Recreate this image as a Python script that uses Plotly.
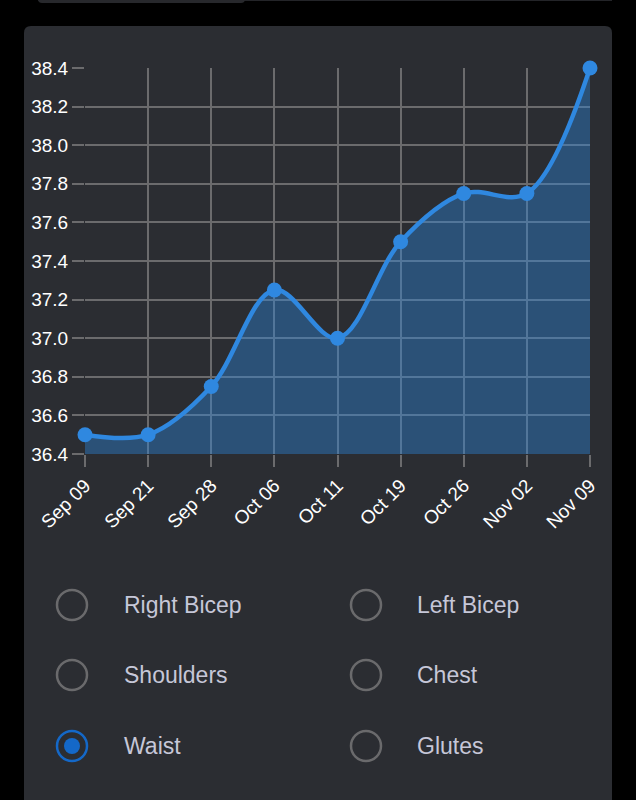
import plotly.graph_objects as go

# measurement history for the selected body part (waist)
dates = ['Sep 09', 'Sep 21', 'Sep 28', 'Oct 06', 'Oct 11', 'Oct 19', 'Oct 26', 'Nov 02', 'Nov 09']
waist = [36.5, 36.5, 36.75, 37.25, 37.0, 37.5, 37.75, 37.75, 38.4]

# radio options under the chart
options_left = ['Right Bicep', 'Shoulders', 'Waist']
options_right = ['Left Bicep', 'Chest', 'Glutes']
selected = 'Waist'

W, H = 636, 800
BLUE = '#2f88e0'
CARD = '#2b2d32'


def px(x):
    return x / W


def py(y):
    return 1 - y / H


def rounded_rect(x0, y0, x1, y1, r):
    # pixel coords -> svg path in paper coords
    rx, ry = r / W, r / H
    a, b, c, d = px(x0), py(y0), px(x1), py(y1)
    return (f'M {a + rx},{b} L {c - rx},{b} Q {c},{b} {c},{b - ry} '
            f'L {c},{d + ry} Q {c},{d} {c - rx},{d} L {a + rx},{d} '
            f'Q {a},{d} {a},{d + ry} L {a},{b - ry} Q {a},{b} {a + rx},{b} Z')


fig = go.Figure()

fig.add_trace(go.Scatter(
    x=dates, y=waist,
    mode='lines+markers',
    line=dict(color=BLUE, width=4.5, shape='spline', smoothing=1),
    marker=dict(color=BLUE, size=15),
    fill='tozeroy', fillcolor='rgba(46,134,222,0.4)',
    cliponaxis=False,
    hoverinfo='skip',
))

shapes = [
    # bits of the element above the card
    dict(type='rect', xref='paper', yref='paper', layer='below',
         x0=px(38), x1=px(612), y0=py(1), y1=py(0), fillcolor='#232428', line=dict(width=0)),
    dict(type='path', xref='paper', yref='paper', layer='below',
         path=rounded_rect(38, -12, 245, 3, 4), fillcolor='#27282c', line=dict(width=0)),
    # card
    dict(type='path', xref='paper', yref='paper', layer='below',
         path=rounded_rect(24, 26, 612, 830, 7), fillcolor=CARD, line=dict(width=0)),
]
annotations = []

rows_y = [605, 675, 746]
for col_x, text_x, labels in [(72, 122, options_left), (366, 415, options_right)]:
    for y, label in zip(rows_y, labels):
        on = label == selected
        r = 15
        shapes.append(dict(type='circle', xref='paper', yref='paper',
                           x0=px(col_x - r), x1=px(col_x + r), y0=py(y + r), y1=py(y - r),
                           line=dict(color='#1468c8' if on else '#6a6a6c', width=2.5),
                           fillcolor='rgba(0,0,0,0)'))
        if on:
            shapes.append(dict(type='circle', xref='paper', yref='paper',
                               x0=px(col_x - 8), x1=px(col_x + 8), y0=py(y + 8), y1=py(y - 8),
                               line=dict(width=0), fillcolor='#1468c8'))
        annotations.append(dict(xref='paper', yref='paper', x=px(text_x), y=py(y),
                                xanchor='left', yanchor='middle', showarrow=False,
                                text=label, font=dict(size=23, color='#c6c7d8')))

fig.update_layout(
    width=W, height=H,
    margin=dict(l=0, r=0, t=0, b=0),
    paper_bgcolor='black', plot_bgcolor='rgba(0,0,0,0)',
    font=dict(family='Liberation Sans, Arial, sans-serif', color='white'),
    showlegend=False,
    shapes=shapes,
    annotations=annotations,
    xaxis=dict(domain=[px(85), px(590)], range=[0, 8], type='category', automargin=False,
               showgrid=True, gridcolor='#6b6b6d', gridwidth=1.5,
               ticks='outside', ticklen=12, tickcolor='#6b6b6d', tickwidth=1.5,
               tickangle=-45, tickfont=dict(size=19, color='white'),
               showline=False, zeroline=False, fixedrange=True),
    yaxis=dict(domain=[py(454), py(68)], range=[36.4, 38.4], dtick=0.2, tickformat='.1f',
               automargin=False,
               showgrid=True, gridcolor='#6b6b6d', gridwidth=1.5,
               ticks='outside', ticklen=12, tickcolor='#6b6b6d', tickwidth=1.5,
               tickfont=dict(size=19, color='white'),
               showline=False, zeroline=False, fixedrange=True),
)

fig.write_html('out.html', config={'displayModeBar': False},
               post_script="document.body.style.margin='0';document.body.style.background='black';")
